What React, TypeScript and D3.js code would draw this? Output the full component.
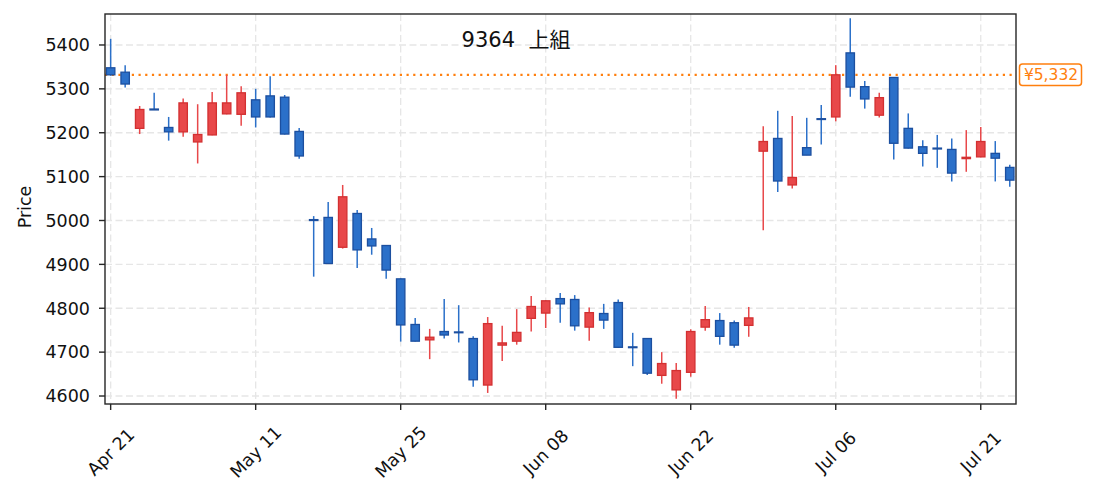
import React from "react";
import * as d3 from "d3";

const title = "9364  上組";
const yLabel = "Price";
const refPrice = 5332;
const refLabel = "¥5,332";

const tickIndex = [0, 10, 20, 30, 40, 50, 60];
const tickLabels = ["Apr 21", "May 11", "May 25", "Jun 08", "Jun 22", "Jul 06", "Jul 21"];
const yTicks = [4600, 4700, 4800, 4900, 5000, 5100, 5200, 5300, 5400];

const opens = [5348, 5338, 5210, 5254, 5212, 5202, 5179, 5195, 5243, 5242, 5275, 5284, 5281, 5203, 5002, 5007, 4939, 5016, 4958, 4943, 4867, 4763, 4728, 4747, 4746, 4731, 4625, 4716, 4725, 4777, 4789, 4822, 4820, 4757, 4788, 4813, 4712, 4731, 4647, 4614, 4654, 4757, 4772, 4767, 4761, 5158, 5187, 5081, 5166, 5232, 5236, 5382, 5305, 5240, 5326, 5210, 5168, 5165, 5162, 5141, 5145, 5153, 5121];
const highs = [5414, 5354, 5261, 5291, 5236, 5278, 5265, 5293, 5332, 5306, 5300, 5329, 5286, 5211, 5010, 5042, 5081, 5024, 4983, 4944, 4868, 4778, 4753, 4821, 4807, 4736, 4780, 4760, 4798, 4828, 4818, 4835, 4830, 4802, 4810, 4820, 4744, 4731, 4700, 4675, 4752, 4805, 4789, 4772, 4803, 5215, 5250, 5238, 5234, 5263, 5354, 5461, 5318, 5291, 5326, 5244, 5183, 5195, 5187, 5206, 5213, 5181, 5127];
const lows = [5330, 5303, 5197, 5252, 5182, 5191, 5130, 5194, 5242, 5216, 5212, 5235, 5196, 5141, 4872, 4901, 4936, 4892, 4922, 4867, 4724, 4724, 4684, 4731, 4722, 4621, 4607, 4680, 4717, 4747, 4755, 4767, 4749, 4726, 4753, 4710, 4668, 4648, 4628, 4594, 4644, 4749, 4717, 4710, 4735, 4978, 5065, 5073, 5149, 5173, 5226, 5282, 5255, 5235, 5139, 5164, 5123, 5120, 5089, 5111, 5144, 5089, 5077];
const closes = [5332, 5311, 5253, 5252, 5202, 5268, 5196, 5268, 5268, 5291, 5236, 5236, 5197, 5147, 5000, 4902, 5054, 4933, 4942, 4887, 4762, 4725, 4734, 4739, 4745, 4637, 4765, 4721, 4745, 4804, 4817, 4810, 4760, 4790, 4773, 4711, 4711, 4652, 4674, 4658, 4747, 4774, 4736, 4716, 4778, 5180, 5090, 5098, 5149, 5231, 5332, 5304, 5277, 5280, 5176, 5165, 5153, 5163, 5108, 5144, 5180, 5142, 5092];

const W = 1095;
const H = 492;
const left = 105;
const right = 1016;
const top = 14;
const bottom = 404;
const FONT = "'DejaVu Sans', 'Noto Sans CJK JP', sans-serif";

const UP_FILL = "#e8484a";
const UP_EDGE = "#d33031";
const DOWN_FILL = "#2b70c9";
const DOWN_EDGE = "#1c4f9f";
const ORANGE = "#ff7f0e";
const AXIS = "#262626";
const GRID = "#e6e6e6";

export default function App() {
  const x = d3.scaleLinear().domain([-0.39, 62.43]).range([left, right]);
  const y = d3.scaleLinear().domain([4581.8, 5470.6]).range([bottom, top]);
  const step = x(1) - x(0);
  const bw = step * 0.58;

  return (
    <svg width={W} height={H} style={{ position: "absolute", left: 0, top: 0, background: "#fff" }} fontFamily={FONT}>
      <rect x={0} y={0} width={W} height={H} fill="#fff" />
      {/* grid */}
      {yTicks.map((t) => (
        <line key={"gy" + t} x1={left} x2={right} y1={y(t)} y2={y(t)} stroke={GRID} strokeWidth={1.3} strokeDasharray="7,3.5" />
      ))}
      {tickIndex.map((t) => (
        <line key={"gx" + t} x1={x(t)} x2={x(t)} y1={top} y2={bottom} stroke={GRID} strokeWidth={1.3} strokeDasharray="7,3.5" />
      ))}
      {/* reference line */}
      <line x1={left} x2={right} y1={y(refPrice)} y2={y(refPrice)} stroke={ORANGE} strokeWidth={2.2} strokeDasharray="2.2,4.5" />
      {/* candles */}
      {opens.map((o, i) => {
        const c = closes[i];
        const up = c > o;
        const fill = up ? UP_FILL : DOWN_FILL;
        const edge = up ? UP_EDGE : DOWN_EDGE;
        const cx = x(i);
        const yt = y(Math.max(o, c));
        const yb = y(Math.min(o, c));
        const h = Math.max(yb - yt, 0.8);
        return (
          <g key={i}>
            <line x1={cx} x2={cx} y1={y(highs[i])} y2={y(lows[i])} stroke={fill} strokeWidth={1.5} />
            <rect x={cx - bw / 2} y={yt} width={bw} height={h} fill={fill} stroke={edge} strokeWidth={1.3} />
          </g>
        );
      })}
      {/* frame */}
      <rect x={left} y={top} width={right - left} height={bottom - top} fill="none" stroke={AXIS} strokeWidth={1.4} />
      {/* y ticks */}
      {yTicks.map((t) => (
        <g key={"yt" + t}>
          <line x1={left - 6} x2={left} y1={y(t)} y2={y(t)} stroke={AXIS} strokeWidth={1.4} />
          <text x={left - 15} y={y(t)} dy="0.36em" textAnchor="end" fontSize={17.5} fill="#111">{t}</text>
        </g>
      ))}
      {/* x ticks */}
      {tickIndex.map((t, k) => (
        <g key={"xt" + t}>
          <line x1={x(t)} x2={x(t)} y1={bottom} y2={bottom + 6} stroke={AXIS} strokeWidth={1.4} />
          <text
            transform={`translate(${x(t)},${452}) rotate(-45)`}
            textAnchor="middle"
            dy="0.35em"
            fontSize={17.5}
            fill="#111"
          >
            {tickLabels[k]}
          </text>
        </g>
      ))}
      {/* y label */}
      <text transform={`translate(25,207) rotate(-90)`} textAnchor="middle" dy="0.35em" fontSize={17.5} fill="#111">
        {yLabel}
      </text>
      {/* title */}
      <text x={516} y={47} textAnchor="middle" fontSize={21} fill="#111" style={{ whiteSpace: "pre" }}>
        {title}
      </text>
      {/* ref label */}
      <rect x={1019.5} y={64} width={62} height={21.5} rx={3} fill="#fff" stroke={ORANGE} strokeWidth={1.5} />
      <text x={1051} y={y(refPrice)} dy="0.36em" textAnchor="middle" fontSize={15.5} fill={ORANGE}>
        {refLabel}
      </text>
    </svg>
  );
}
